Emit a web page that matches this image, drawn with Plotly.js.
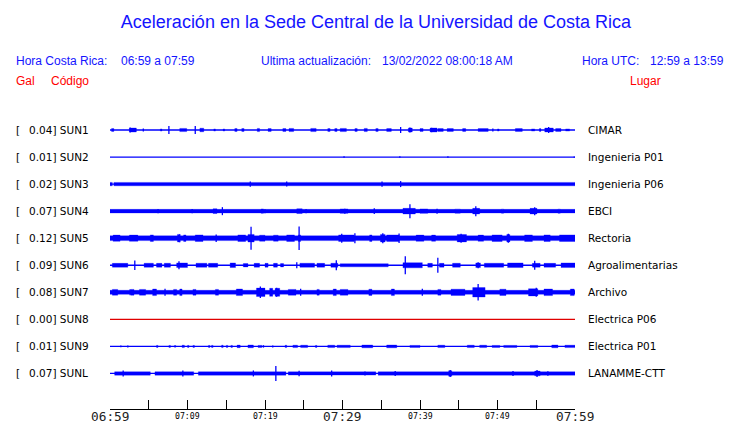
<!DOCTYPE html>
<html><head><meta charset="utf-8">
<script src="https://cdn.plot.ly/plotly-3.0.1.min.js"></script>
<style>html,body{margin:0;padding:0;background:#fff;}#chart{width:740px;height:423px;}</style>
</head><body><div id="chart"></div>
<script>
// ---------- data ----------
const codes  = ['SUN1','SUN2','SUN3','SUN4','SUN5','SUN6','SUN7','SUN8','SUN9','SUNL'];
const places = ['CIMAR','Ingenieria P01','Ingenieria P06','EBCI','Rectoria','Agroalimentarias','Archivo','Electrica P06','Electrica P01','LANAMME-CTT'];
const peakGal = ['0.04','0.01','0.02','0.07','0.12','0.09','0.08','0.00','0.01','0.07'];

// minutes after 06:59
const tickMinutes = [0,5,10,15,20,25,30,35,40,45,50,55,60];
const labelMinutes = [0,10,20,30,40,50,60];
const labelTexts = ['06:59','07:09','07:19','07:29','07:39','07:49','07:59'];
const labelMajor = [true,false,false,true,false,false,true];

// envelopes: [startMin, endMin, halfAmplitudeGal] ; spikes: [min, halfAmplitudeGal]
const SUN1_RECTS = [[0.2,0.5,0.014],[2.5,3.4,0.02],[6.5,6.7,0.011],[9.0,9.9,0.016],[11.6,12.1,0.018],[13.4,13.6,0.011],[14.6,14.8,0.011],[16.1,16.4,0.014],[17.0,17.3,0.014],[19.0,19.3,0.016],[20.4,20.8,0.014],[22.3,22.7,0.014],[23.1,23.7,0.016],[25.9,26.6,0.016],[28.1,28.4,0.014],[29.0,29.3,0.014],[29.7,30.5,0.016],[31.6,31.9,0.014],[32.8,33.2,0.016],[34.3,34.6,0.014],[35.7,36.3,0.014],[38.5,39.0,0.02],[40.0,40.4,0.014],[41.3,42.2,0.02],[42.3,43.0,0.014],[43.5,44.3,0.014],[45.5,45.9,0.014],[47.5,48.8,0.014],[50.0,50.2,0.011],[52.3,53.2,0.014],[54.4,54.8,0.011],[55.4,55.6,0.014],[56.1,57.2,0.02],[57.5,58.2,0.014],[58.8,59.3,0.011]];
const SUN1_SPIKES = [[2.6,0.025],[4.3,0.015],[7.6,0.04],[11.0,0.04],[37.5,0.03],[38.7,0.025],[41.5,0.022],[49.4,0.015],[56.6,0.03]];

const SUN2_RECTS = [];
const SUN2_SPIKES = [[30.2,0.008],[37.4,0.008],[43.6,0.008],[59.9,0.006]];

const SUN3_RECTS = [[0,0.3,0.017],[0.5,60,0.017]];
const SUN3_SPIKES = [[18.1,0.027],[22.8,0.025],[35.1,0.027],[37.5,0.03]];

const SUN4_RECTS = [[0,60,0.018],[13.3,13.8,0.024],[19.5,19.8,0.022],[24.1,24.8,0.024],[29.7,30.7,0.022],[37.8,39.4,0.028],[40.0,41.0,0.022],[44.5,45.2,0.02],[46.8,47.7,0.028],[50.5,50.8,0.02],[54.2,55.1,0.028],[57.8,58.1,0.02]];
const SUN4_SPIKES = [[6.2,0.022],[10.6,0.022],[14.5,0.04],[20.0,0.02],[25.3,0.022],[30.3,0.025],[34.1,0.028],[38.7,0.07],[42.2,0.025],[47.2,0.05],[54.8,0.04]];

const SUN5_RECTS = [[0,60,0.024],[0.4,1.3,0.031],[2.5,3.6,0.031],[5.2,5.6,0.033],[8.7,9.0,0.038],[9.5,9.8,0.033],[11.0,12.0,0.033],[16.5,17.5,0.033],[17.8,18.6,0.038],[19.3,20.0,0.03],[21.1,21.7,0.03],[22.8,23.8,0.033],[24.3,24.6,0.033],[29.5,31.5,0.033],[33.5,33.8,0.033],[34.9,35.5,0.038],[35.7,37.3,0.033],[39.5,40.5,0.031],[41.5,42.0,0.031],[44.8,46.0,0.037],[47.5,48.2,0.031],[49.3,50.6,0.033],[51.2,51.6,0.037],[53.5,54.5,0.033],[56.0,56.8,0.033],[58.0,60,0.033]];
const SUN5_SPIKES = [[9.0,0.04],[13.7,0.038],[18.2,0.115],[24.4,0.118],[29.9,0.045],[31.6,0.05],[35.2,0.05],[37.3,0.048],[45.3,0.045],[51.4,0.045]];

const SUN6_RECTS = [[0.3,2.3,0.019],[4.4,5.6,0.02],[6.0,6.7,0.019],[7.0,7.8,0.02],[8.6,10.0,0.023],[11.1,12.5,0.02],[12.7,13.9,0.019],[15.5,16.2,0.023],[17.2,17.8,0.017],[18.6,19.3,0.019],[20.0,20.4,0.019],[21.1,21.6,0.019],[22.0,22.4,0.017],[24.5,26.4,0.02],[26.7,27.7,0.019],[28.5,29.4,0.02],[29.7,35.9,0.016],[37.8,40.3,0.026],[41.0,41.6,0.019],[42.5,43.1,0.019],[44.2,45.2,0.02],[47.2,47.8,0.023],[48.3,50.8,0.02],[51.3,53.3,0.023],[54.5,55.5,0.019],[56.0,57.5,0.019],[58.2,60,0.023]];
const SUN6_SPIKES = [[3.2,0.048],[8.9,0.04],[24.1,0.03],[29.2,0.05],[38.1,0.09],[42.3,0.075],[47.5,0.03],[54.8,0.045]];

const SUN7_RECTS = [[0,60,0.02],[0.3,1.0,0.029],[2.7,3.1,0.029],[3.8,4.6,0.029],[5.5,6.0,0.033],[8.2,8.6,0.029],[9.0,9.3,0.033],[10.7,11.1,0.029],[13.6,14.0,0.029],[16.3,17.1,0.033],[18.9,20.0,0.042],[20.6,21.0,0.04],[21.3,21.9,0.04],[23.0,24.0,0.029],[26.7,27.0,0.029],[28.8,29.2,0.033],[29.7,30.7,0.029],[33.4,33.8,0.031],[36.3,36.7,0.033],[42.3,42.7,0.029],[44.0,45.8,0.031],[46.8,48.4,0.047],[50.3,51.1,0.031],[54.0,55.2,0.036],[56.0,57.1,0.033],[59.4,59.9,0.033]];
const SUN7_SPIKES = [[2.6,0.03],[7.1,0.035],[19.4,0.058],[21.5,0.045],[24.6,0.035],[40.3,0.035],[47.5,0.083],[55.0,0.045]];

const SUN8_RECTS = [];
const SUN8_SPIKES = [];

const SUN9_RECTS = [[6.0,6.2,0.01],[7.6,7.8,0.01],[8.3,8.5,0.008],[9.3,9.6,0.012],[10.0,10.2,0.01],[10.7,10.9,0.01],[12.7,12.9,0.01],[13.1,13.3,0.01],[14.4,14.6,0.012],[15.0,15.2,0.01],[15.6,15.8,0.01],[16.4,16.8,0.013],[17.8,18.5,0.014],[19.1,19.6,0.01],[22.6,22.8,0.012],[23.6,24.2,0.012],[24.6,25.5,0.012],[26.5,26.7,0.01],[28.1,29.0,0.012],[29.3,31.0,0.012],[32.5,33.9,0.014],[35.7,37.0,0.014],[38.7,40.0,0.01],[42.3,43.2,0.012],[46.1,47.0,0.012],[47.7,48.6,0.012],[49.3,50.3,0.01],[50.8,52.5,0.01],[54.2,55.2,0.01],[57.0,57.8,0.014],[58.7,60,0.012]];
const SUN9_SPIKES = [[1.4,0.008],[2.3,0.01],[19.8,0.012],[21.0,0.01]];

const SUNL_RECTS = [[0.6,5.2,0.017],[5.8,10.8,0.017],[11.4,22.7,0.017],[23.0,34.3,0.016],[34.6,60,0.017],[43.7,44.1,0.028],[54.8,55.5,0.024]];
const SUNL_SPIKES = [[1.7,0.03],[9.4,0.03],[18.5,0.03],[21.4,0.075],[24.4,0.028],[28.6,0.03],[32.9,0.02],[36.8,0.025],[43.9,0.035],[52.0,0.025],[55.1,0.035],[56.5,0.022]];

const stationRects  = [SUN1_RECTS,SUN2_RECTS,SUN3_RECTS,SUN4_RECTS,SUN5_RECTS,SUN6_RECTS,SUN7_RECTS,SUN8_RECTS,SUN9_RECTS,SUNL_RECTS];
const stationSpikes = [SUN1_SPIKES,SUN2_SPIKES,SUN3_SPIKES,SUN4_SPIKES,SUN5_SPIKES,SUN6_SPIKES,SUN7_SPIKES,SUN8_SPIKES,SUN9_SPIKES,SUNL_SPIKES];

// ---------- layout constants ----------
const PL = 110, PR = 575, PT = 115, PB = 409;
const ROW_PX = 27.05;
const GAL_TO_ROW = 100 / ROW_PX;     // 1 Gal drawn as 100 px
const px2x = x => (x - PL) / (PR - PL);
const px2y = y => (PB - y) / (PB - PT);
const yTop = (130 - PT) / ROW_PX;
const yBot = yTop - (PB - PT) / ROW_PX;

const BLUE = '#0000ff', RED = '#e00000', TXTBLUE = '#1414ff';

const traces = [];
codes.forEach((c, i) => {
  const off = -i;
  const col = peakGal[i] === '0.00' ? RED : BLUE;
  traces.push({x:[0,60], y:[off,off], mode:'lines', line:{color:col, width:1.3}, hoverinfo:'skip'});
  const rects = stationRects[i];
  if (rects.length) {
    const xs = [], ys = [];
    rects.forEach(r => {
      const a = r[2] * GAL_TO_ROW;
      xs.push(r[0], r[0], r[1], r[1], r[0], null);
      ys.push(off - a, off + a, off + a, off - a, off - a, null);
    });
    traces.push({x:xs, y:ys, mode:'lines', fill:'toself', fillcolor:col, line:{color:col, width:0.3}, hoverinfo:'skip'});
  }
  const sp = stationSpikes[i];
  if (sp.length) {
    const xs = [], ys = [];
    sp.forEach(s => {
      const a = s[1] * GAL_TO_ROW;
      xs.push(s[0], s[0], null);
      ys.push(off - a, off + a, null);
    });
    traces.push({x:xs, y:ys, mode:'lines', line:{color:col, width:1.3}, hoverinfo:'skip'});
  }
});

const ann = [];
const lblFont = {family:'DejaVu Sans', size:10.5, color:'#000'};
codes.forEach((c, i) => {
  ann.push({xref:'paper', yref:'y', x:px2x(14), y:-i, xanchor:'left', yanchor:'middle', text:'[', showarrow:false, font:lblFont});
  ann.push({xref:'paper', yref:'y', x:px2x(27), y:-i, xanchor:'left', yanchor:'middle', text:peakGal[i] + '] ' + c, showarrow:false, font:lblFont});
  ann.push({xref:'paper', yref:'y', x:px2x(586), y:-i, xanchor:'left', yanchor:'middle', text:places[i], showarrow:false, font:lblFont});
});
labelMinutes.forEach((m, k) => {
  ann.push({xref:'x', yref:'paper', x:m, y:px2y(416), xanchor:'center', yanchor:'middle', text:labelTexts[k], showarrow:false,
    font:{family:'DejaVu Sans Mono', size: labelMajor[k] ? 12.8 : 8.2, color: labelMajor[k] ? '#222' : '#000'}});
});
const hdrFont = {family:'Liberation Sans, Arial', size:12, color:TXTBLUE};
const redFont = {family:'Liberation Sans, Arial', size:12, color:'#ff0000'};
const hdr = (x, y, t, f, anchor) => ann.push({xref:'paper', yref:'paper', x:px2x(x), y:px2y(y), xanchor:anchor||'left', yanchor:'middle', text:t, showarrow:false, font:f});
hdr(14, 61, 'Hora Costa Rica:', hdrFont);
hdr(119, 61, '06:59 a 07:59', hdrFont);
hdr(259, 61, 'Ultima actualización:', hdrFont);
hdr(380, 61, '13/02/2022 08:00:18 AM', hdrFont);
hdr(580, 61, 'Hora UTC:', hdrFont);
hdr(726, 61, '12:59 a 13:59', hdrFont, 'right');
hdr(14, 80.5, 'Gal', redFont);
hdr(49, 80.5, 'Código', redFont);
hdr(628, 80.5, 'Lugar', redFont);

const layout = {
  width:740, height:423,
  margin:{l:PL, r:740-PR, t:PT, b:423-PB, pad:0},
  paper_bgcolor:'#fff', plot_bgcolor:'#fff',
  showlegend:false, hovermode:false,
  title:{text:'Aceleración en la Sede Central de la Universidad de Costa Rica', xref:'container', yref:'container',
    x:376/740, y:1-22/423, xanchor:'center', yanchor:'middle', font:{family:'Liberation Sans, Arial', size:18, color:TXTBLUE}},
  xaxis:{range:[0,60], showgrid:false, zeroline:false, showline:true, linecolor:'#000', linewidth:1,
    ticks:'inside', ticklen:9, tickcolor:'#000', tickwidth:1, tickmode:'array', tickvals:tickMinutes, showticklabels:false, fixedrange:true},
  yaxis:{range:[yBot, yTop], visible:false, showgrid:false, zeroline:false, fixedrange:true},
  annotations:ann
};
Plotly.newPlot('chart', traces, layout, {staticPlot:true, displayModeBar:false});
</script></body></html>
